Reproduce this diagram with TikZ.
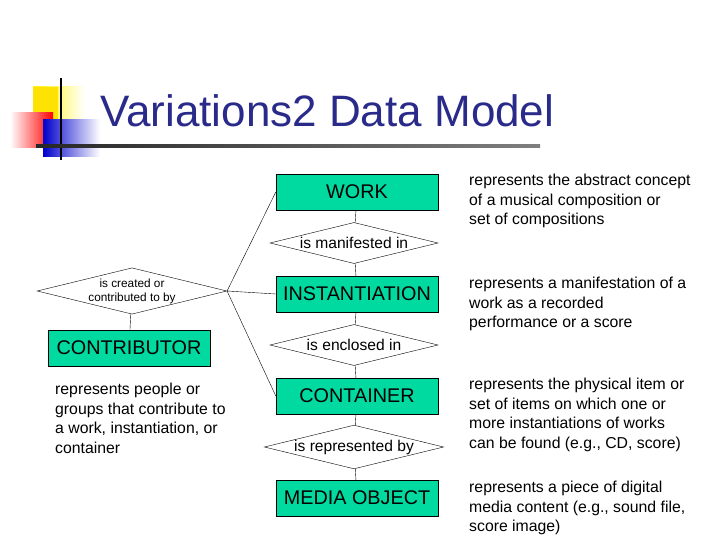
\documentclass[tikz,border=0pt]{standalone}
\usepackage{fontspec}
\setmainfont{Liberation Sans}
\usetikzlibrary{shapes.geometric}
\definecolor{boxg}{HTML}{00D9A0}
\definecolor{ttl}{HTML}{2A2A8A}
\begin{document}
\begin{tikzpicture}[x=1pt,y=-1pt,
  ent/.style={draw,fill=boxg,minimum width=162pt,minimum height=36pt,inner sep=0pt,font=\fontsize{19.8}{21}\selectfont},
  rel/.style={draw,diamond,aspect=4.1,minimum width=168pt,minimum height=41pt,inner sep=0pt,font=\fontsize{15.6}{17}\selectfont},
  desc/.style={anchor=north west,align=left,font=\fontsize{15.8}{19.5}\selectfont,inner sep=0pt}]
\useasboundingbox (0,0) rectangle (720,540);
% logo
\shade[left color=yellow!90!orange,right color=white] (33,87) rectangle (85,130);
\fill[yellow!85!orange] (33,87) rectangle (58,130);
\shade[left color=white,right color=red] (10,113) rectangle (53,148);
\shade[left color=blue!80!black,right color=white] (43,120) rectangle (100,157);
\draw[line width=2.5pt] (61,78) -- (61,160);
\shade[left color=black!85,right color=black!50] (36,144.5) rectangle (540,148);
\node[anchor=west,text=ttl,font=\fontsize{44}{46}\selectfont,inner sep=0pt] (title) at (100,111) {Variations2 Data Model};
% entities
\node[ent] (work) at (357,192) {WORK};
\node[rel] (r1) at (354,243) {is manifested in};
\node[ent] (inst) at (357,294) {INSTANTIATION};
\node[rel] (r2) at (354,345) {is enclosed in};
\node[ent] (cont) at (357,396) {CONTAINER};
\node[rel] (r3) at (354,447) {is represented by};
\node[ent] (media) at (357,498) {MEDIA OBJECT};
\node[rel,font=\fontsize{11.8}{14}\selectfont,align=center] (rc) at (132,291) {is created or\\contributed to by};
\node[ent] (contr) at (129,348) {CONTRIBUTOR};
\draw (work) -- (r1) -- (inst) -- (r2) -- (cont) -- (r3) -- (media);
\draw (rc) -- (contr);
\draw (rc.east) -- (work.west);
\draw (rc.east) -- (inst.west);
\draw (rc.east) -- (cont.west);
% descriptions
\node[desc] (d1) at (469,174) {represents the abstract concept\\of a musical composition or\\set of compositions};
\node[desc] (d2) at (469,277) {represents a manifestation of a\\work as a recorded\\performance or a score};
\node[desc] (d3) at (469,378) {represents the physical item or\\set of items on which one or\\more instantiations of works\\can be found (e.g., CD, score)};
\node[desc] (d4) at (469,481) {represents a piece of digital\\media content (e.g., sound file,\\score image)};
\node[desc] (d5) at (55,383) {represents people or\\groups that contribute to\\a work, instantiation, or\\container};
\end{tikzpicture}
\end{document}
